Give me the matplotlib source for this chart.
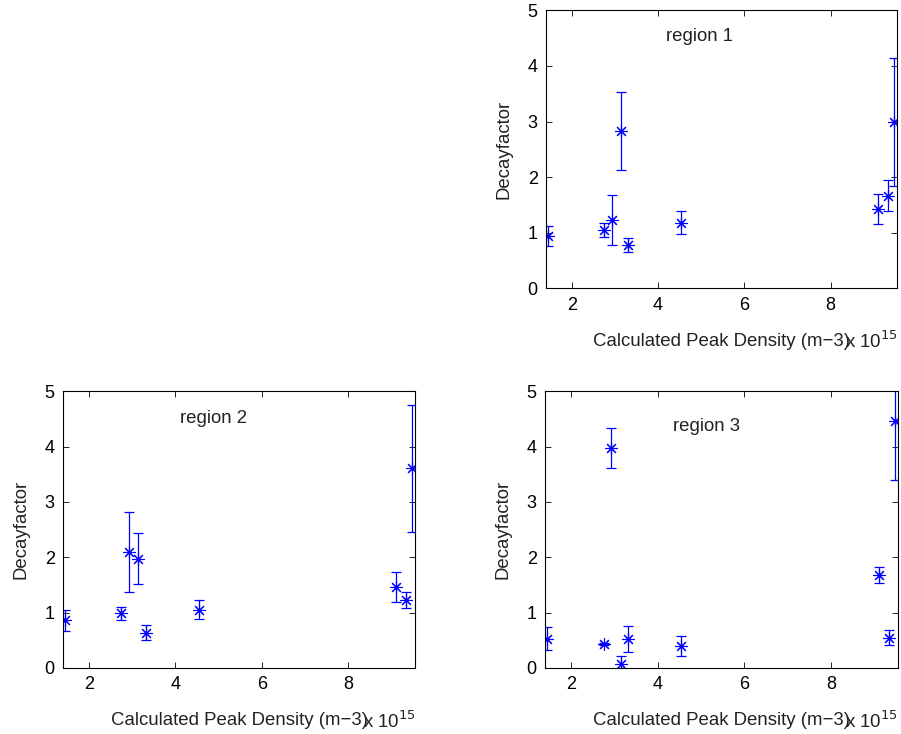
import matplotlib
matplotlib.use("Agg")
import matplotlib.pyplot as plt

plt.rcParams['font.family'] = ['Liberation Sans', 'DejaVu Sans']

# peak density in units of 1e15 m^-3 (shared by all three regions)
density = [1.45, 2.75, 2.92, 3.14, 3.31, 4.54, 9.10, 9.34, 9.48]

decay_r1 = [0.94, 1.05, 1.23, 2.83, 0.78, 1.18, 1.42, 1.67, 3.00]
err_r1 = [0.18, 0.13, 0.45, 0.70, 0.13, 0.21, 0.27, 0.28, 1.15]

decay_r2 = [0.86, 0.99, 2.10, 1.97, 0.64, 1.05, 1.46, 1.23, 3.61]
err_r2 = [0.19, 0.12, 0.72, 0.46, 0.14, 0.17, 0.27, 0.15, 1.15]

decay_r3 = [0.53, 0.43, 3.97, 0.08, 0.52, 0.40, 1.68, 0.55, 4.47]
err_r3 = [0.21, 0.02, 0.36, 0.13, 0.24, 0.18, 0.14, 0.14, 1.07]

region_names = ["region 1", "region 2", "region 3"]
label_pos = [(4.18, 4.53), (4.10, 4.50), (4.36, 4.37)]

fig = plt.figure(figsize=(9.01, 7.34), dpi=100)
axes_rects = [
    [0.606, 0.607, 0.390, 0.379],
    [0.070, 0.090, 0.391, 0.377],
    [0.605, 0.090, 0.392, 0.377],
]
series = [(decay_r1, err_r1), (decay_r2, err_r2), (decay_r3, err_r3)]
fs = 13.4

for rect, (vals, errs), name, (lx, ly) in zip(axes_rects, series, region_names, label_pos):
    ax = fig.add_axes(rect)
    ax.errorbar(density, vals, yerr=errs, fmt='none', ecolor='#0000ff',
                elinewidth=0.9, capsize=3.5, capthick=0.9)
    ax.plot(density, vals, linestyle='none', marker=(8, 2, 0), markersize=9,
            markeredgecolor='#0000ff', markeredgewidth=0.8, color='#0000ff')
    ax.set_xlim(1.4, 9.55)
    ax.set_ylim(0, 5)
    ax.set_xticks([2, 4, 6, 8])
    ax.set_yticks([0, 1, 2, 3, 4, 5])
    ax.tick_params(direction='in', top=True, right=True, labelsize=13,
                   length=4, width=0.6, pad=6)
    for s in ax.spines.values():
        s.set_linewidth(0.8)
    ax.set_ylabel("Decayfactor", fontsize=fs, color='#222222', labelpad=11)
    ax.set_xlabel("Calculated Peak Density (m\u22123)", fontsize=fs,
                  color='#222222')
    ax.xaxis.set_label_coords(0.5, -0.16, transform=ax.transAxes)
    ax.xaxis.label.set_va('top')
    ax.text(1.0, -0.152, "x 10$^{15}$", transform=ax.transAxes, ha='right',
            va='top', fontsize=fs, color='#222222')
    ax.text(lx, ly, name, fontsize=fs, color='#222222', va='center')

fig.savefig("out.png", dpi=100)
